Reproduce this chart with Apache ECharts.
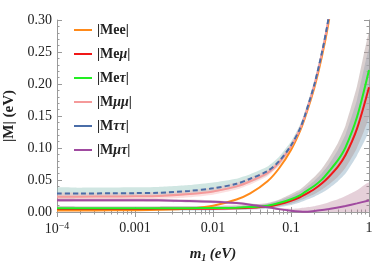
<!DOCTYPE html>
<html><head><meta charset="utf-8">
<script src="https://cdn.jsdelivr.net/npm/echarts@6/dist/echarts.min.js"></script>
<style>html,body{margin:0;padding:0;background:#fff}#c{width:374px;height:261px}</style>
</head><body><div id="c"></div>
<script>
// lightest neutrino mass m1 (eV)
const m1 = [1e-4,2e-4,5e-4,1e-3,2e-3,5e-3,0.01,0.02,0.03,0.05,0.07,0.1,0.13,0.15,0.2,0.25,0.3,0.4,0.5,0.7,1.0];
// central curves |M| (eV)
const Mee   = [0.0025,0.0025,0.0026,0.0028,0.0034,0.0055,0.0098,0.0195,0.029,0.048,0.068,0.097,0.126,0.146,0.195,0.244,0.293,0.39,0.49,0.68,0.97];
const Memu  = [0.0048,0.0048,0.0048,0.0048,0.0049,0.005,0.0052,0.0058,0.0065,0.0085,0.012,0.0175,0.023,0.027,0.036,0.045,0.054,0.071,0.089,0.13,0.195];
const Metau = [0.0058,0.0058,0.0058,0.0058,0.0059,0.006,0.0062,0.0068,0.0077,0.0099,0.014,0.020,0.026,0.031,0.041,0.051,0.062,0.081,0.101,0.148,0.222];
const Mmumu = [0.024,0.024,0.0242,0.0245,0.025,0.028,0.032,0.040,0.048,0.061,0.077,0.102,0.129,0.149,0.199,0.249,0.299,0.399,0.499,0.699,0.999];
const Mtautau = [0.029,0.029,0.0292,0.0295,0.030,0.033,0.037,0.044,0.052,0.064,0.079,0.104,0.13,0.15,0.2,0.25,0.30,0.40,0.50,0.70,1.0];
const Mmutau = [0.0185,0.0185,0.0185,0.0184,0.0182,0.0172,0.016,0.014,0.0115,0.0075,0.0045,0.002,0.0006,0.0002,0.0015,0.003,0.0045,0.007,0.0095,0.0135,0.018];
// uncertainty bands (lower / upper)
const Memu_lo  = [0.002,0.002,0.002,0.002,0.002,0.0022,0.0025,0.003,0.0035,0.005,0.0075,0.011,0.015,0.018,0.024,0.030,0.036,0.048,0.060,0.088,0.128];
const Memu_hi  = [0.008,0.008,0.008,0.008,0.008,0.0082,0.0085,0.009,0.0105,0.013,0.018,0.025,0.032,0.037,0.049,0.061,0.073,0.097,0.121,0.175,0.255];
const Metau_lo = [0.003,0.003,0.003,0.003,0.003,0.0032,0.0035,0.004,0.0048,0.0065,0.009,0.013,0.018,0.021,0.028,0.035,0.042,0.055,0.069,0.100,0.150];
const Metau_hi = [0.009,0.009,0.009,0.009,0.009,0.0092,0.0095,0.0105,0.0115,0.014,0.019,0.028,0.035,0.041,0.055,0.068,0.082,0.108,0.135,0.196,0.280];
const Mtt_lo = [0.023,0.023,0.0232,0.0235,0.024,0.027,0.031,0.038,0.046,0.058,0.073,0.099,0.125,0.145,0.195,0.245,0.295,0.395,0.495,0.695,0.995];
const Mtt_hi = [0.038,0.038,0.0382,0.0385,0.039,0.042,0.046,0.052,0.059,0.071,0.086,0.110,0.136,0.156,0.206,0.256,0.306,0.406,0.506,0.706,1.006];
const Mmm_lo = [0.019,0.019,0.0192,0.0195,0.020,0.023,0.027,0.035,0.043,0.056,0.072,0.097,0.124,0.144,0.194,0.244,0.294,0.394,0.494,0.694,0.994];
const Mmm_hi = [0.030,0.030,0.0302,0.0305,0.031,0.034,0.038,0.046,0.054,0.066,0.082,0.107,0.134,0.154,0.204,0.254,0.304,0.404,0.504,0.704,1.004];
const Mmt_lo = [0.016,0.016,0.016,0.016,0.0155,0.0148,0.0138,0.012,0.0098,0.006,0.003,0,0,0,0,0,0,0,0,0,0.001];
const Mmt_hi = [0.021,0.021,0.021,0.021,0.0205,0.0195,0.0185,0.016,0.0135,0.0095,0.0065,0.005,0.006,0.007,0.009,0.012,0.015,0.020,0.025,0.034,0.046];
// axis ticks
const yTicks = [0,0.05,0.10,0.15,0.20,0.25,0.30];
const xTickLabels = {'0.0001':'10{sup|−4}','0.001':'0.001','0.01':'0.01','0.1':'0.1','1':'1'};

const names = ['|Mee|','|Meμ|','|Meτ|','|Mμμ|','|Mττ|','|Mμτ|'];
const colors = ['#FF8A1A','#F01818','#22EE22','#F59A9A','#4A6DA8','#A04AA0'];
const curves = [Mee,Memu,Metau,Mmumu,Mtautau,Mmutau];
const bands = [
  [Mtt_lo,Mtt_hi,'rgba(150,200,190,0.45)'],
  [Mmm_lo,Mmm_hi,'rgba(245,165,165,0.35)'],
  [Memu_lo,Memu_hi,'rgba(150,180,200,0.5)'],
  [Metau_lo,Metau_hi,'rgba(180,160,160,0.5)'],
  [Mmt_lo,Mmt_hi,'rgba(180,120,145,0.35)']
];
const pair = (ys)=>m1.map((x,i)=>[x,ys[i]]);
const series = [];
bands.forEach((b,k)=>{
  series.push({type:'custom',name:'band'+k,coordinateSystem:'cartesian2d',clip:true,silent:true,z:1,
    data:m1.map((x,i)=>[x,b[0][i],b[1][i]]),
    encode:{x:0,y:[1,2]},
    renderItem:(params,api)=>{
      if(params.dataIndex!==0) return null;
      const up = m1.map((x,i)=>api.coord([x,b[1][i]]));
      const dn = m1.map((x,i)=>api.coord([x,b[0][i]])).reverse();
      const cs = params.coordSys;
      return {type:'polygon',shape:{points:up.concat(dn),smooth:0.15},
        style:{fill:b[2],stroke:null},
        clipPath:{type:'rect',shape:{x:cs.x,y:cs.y,width:cs.width,height:cs.height}}};
    }});
});
curves.forEach((c,i)=>{
  series.push({type:'line',name:names[i],data:pair(c),symbol:'none',smooth:0.3,z:3,
    lineStyle:{color:colors[i],width:2,type:i===4?[5,3]:'solid'},itemStyle:{color:colors[i]}});
});
const font = 'Liberation Serif';
const axisCol = '#9a9a9a';
const chart = echarts.init(document.getElementById('c'));
chart.setOption({
  animation:false,
  grid:{left:57,right:5,top:20,bottom:49,containLabel:false,outerBoundsMode:'none'},
  legend:{orient:'vertical',left:69,top:18,itemWidth:18,itemHeight:14,itemGap:10,
    icon:'path://M0,0 L18,0 L18,2 L0,2 Z',
    data:names.map((n,i)=>({name:n,itemStyle:{color:colors[i]}})),
    textStyle:{fontFamily:font,fontWeight:'bold',fontSize:14,color:'#222',
      rich:{g:{fontFamily:font,fontWeight:'bold',fontStyle:'italic',fontSize:14,color:'#222'}}},
    formatter:n=>n.replace(/([μτ])/g,'{g|$1}')},
  xAxis:[
    {type:'log',logBase:10,min:1e-4,max:1,splitNumber:4,position:'bottom',
     name:'{i|m}{s|1} {i|(eV)}',nameLocation:'middle',nameGap:33,
     nameTextStyle:{rich:{i:{fontFamily:font,fontWeight:'bold',fontStyle:'italic',fontSize:15,color:'#222'},
        s:{fontFamily:font,fontWeight:'bold',fontStyle:'italic',fontSize:10,verticalAlign:'bottom',padding:[8,0,0,0],color:'#222'}}},
     axisLine:{lineStyle:{color:axisCol}},axisTick:{inside:true,length:5,lineStyle:{color:axisCol}},
     minorTick:{show:true,splitNumber:9,length:2.5,lineStyle:{color:axisCol}},splitLine:{show:false},
     axisLabel:{margin:9,fontFamily:font,fontSize:14,color:'#222',
       formatter:v=>{const k=String(+v.toPrecision(3));return xTickLabels[k]!==undefined?xTickLabels[k]:'';},
       rich:{sup:{fontFamily:font,fontSize:10,color:'#222',verticalAlign:'top',padding:[0,0,6,0]}}}},
    {type:'log',logBase:10,min:1e-4,max:1,splitNumber:4,position:'top',
     axisLine:{lineStyle:{color:axisCol}},axisTick:{inside:true,length:5,lineStyle:{color:axisCol}},
     minorTick:{show:true,splitNumber:9,length:2.5,lineStyle:{color:axisCol}},splitLine:{show:false},axisLabel:{show:false}}
  ],
  yAxis:[
    {type:'value',min:0,max:0.3,interval:0.05,position:'left',
     name:'|M| (eV)',nameLocation:'middle',nameGap:38,
     nameTextStyle:{fontFamily:font,fontWeight:'bold',fontSize:15,color:'#222'},
     axisLine:{show:true,lineStyle:{color:axisCol}},axisTick:{show:true,inside:true,length:5,lineStyle:{color:axisCol}},
     minorTick:{show:true,splitNumber:5,length:2.5,lineStyle:{color:axisCol}},splitLine:{show:false},
     axisLabel:{margin:5,fontFamily:font,fontSize:14,color:'#222',
       customValues:yTicks,formatter:v=>v.toFixed(2)}},
    {type:'value',min:0,max:0.3,interval:0.05,position:'right',
     axisLine:{show:true,lineStyle:{color:axisCol}},axisTick:{show:true,inside:true,length:5,lineStyle:{color:axisCol}},
     minorTick:{show:true,splitNumber:5,length:2.5,lineStyle:{color:axisCol}},splitLine:{show:false},axisLabel:{show:false}}
  ],
  series:series
});
</script></body></html>
